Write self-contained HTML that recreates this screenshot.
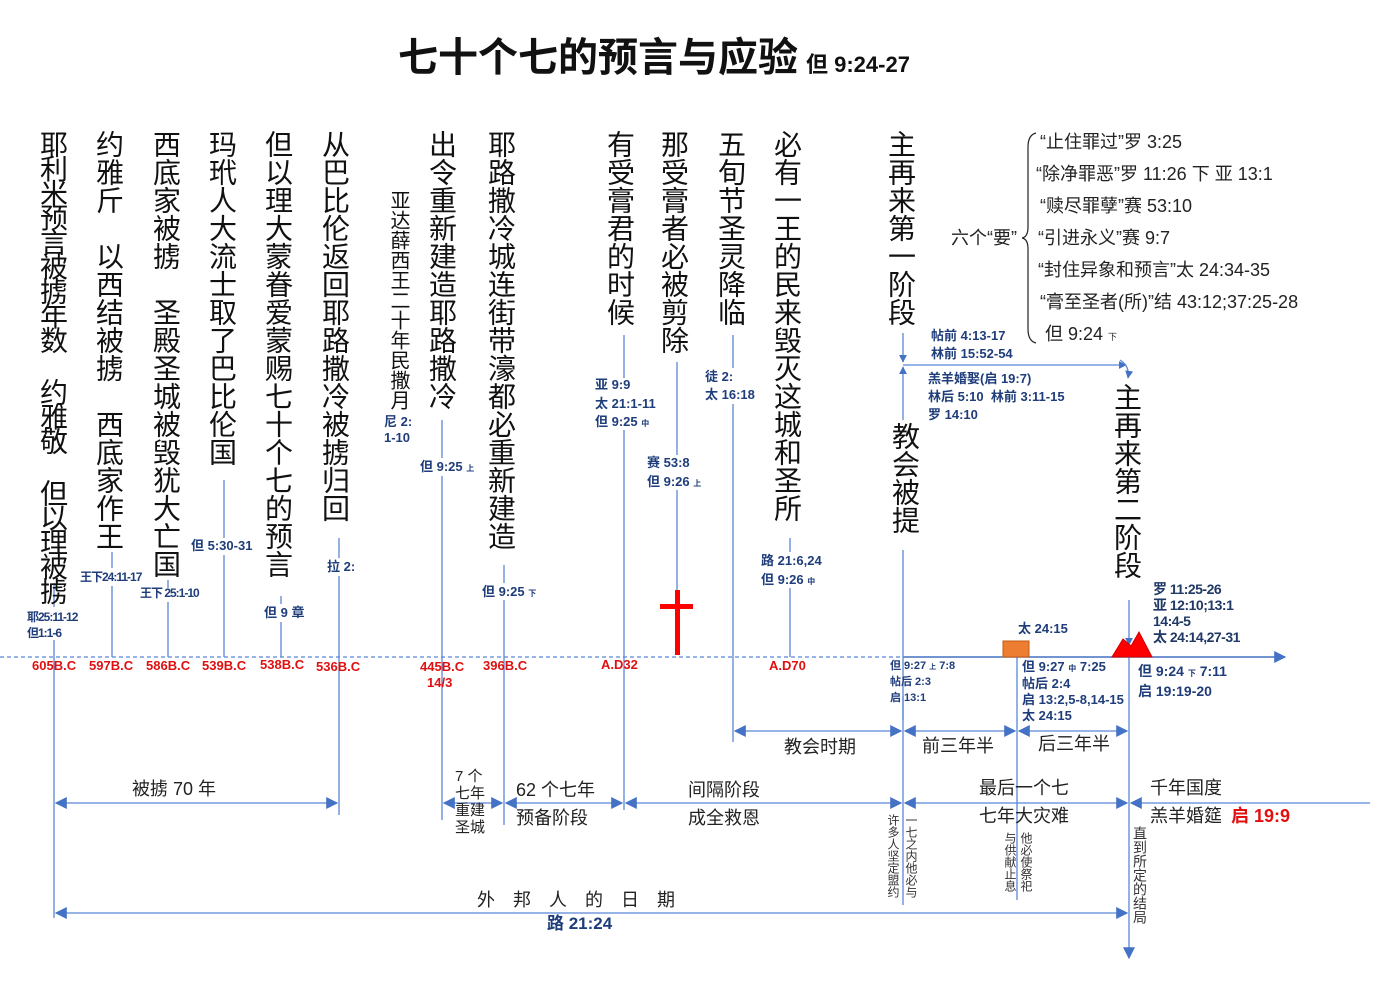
<!DOCTYPE html>
<html><head><meta charset="utf-8">
<style>
html,body{margin:0;padding:0;background:#fff;}
#c{position:relative;width:1390px;height:983px;overflow:hidden;font-family:"Liberation Sans","Noto Sans CJK SC",sans-serif;}
svg{position:absolute;left:0;top:0;}
.t{position:absolute;white-space:nowrap;line-height:1;}
.v{position:absolute;writing-mode:vertical-rl;text-orientation:upright;white-space:nowrap;line-height:1;color:#111;}
.big{font-size:28px;}
.ref{color:#1F3D7A;font-weight:bold;font-size:13px;}
.red{color:#E01010;font-size:13px;font-weight:bold;}
.m{font-size:18px;color:#222;}
</style></head><body><div id="c">
<svg width="1390" height="983" viewBox="0 0 1390 983">
<defs>
<marker id="a" viewBox="0 0 10 10" refX="9" refY="5" markerWidth="8" markerHeight="8" orient="auto-start-reverse" markerUnits="userSpaceOnUse"><path d="M0,0L10,5L0,10z" fill="#4472C4"/></marker>
<marker id="b" viewBox="0 0 10 10" refX="9" refY="5" markerWidth="12" markerHeight="12" orient="auto-start-reverse" markerUnits="userSpaceOnUse"><path d="M0,0L10,5L0,10z" fill="#4472C4"/></marker>
</defs>
<g stroke="#5B87D6" stroke-width="1.3" fill="none">
<line x1="0" y1="657" x2="903" y2="657" stroke-dasharray="4,3"/>
<line x1="903" y1="657" x2="1285" y2="657" stroke="#4472C4" stroke-width="1.6" marker-end="url(#b)"/>
<line x1="54" y1="583" x2="54" y2="607"/><line x1="54" y1="640" x2="54" y2="918"/>
<line x1="112" y1="552" x2="112" y2="568"/><line x1="112" y1="586" x2="112" y2="657"/>
<line x1="168" y1="580" x2="168" y2="588"/><line x1="168" y1="602" x2="168" y2="657"/>
<line x1="224" y1="480" x2="224" y2="538"/><line x1="224" y1="555" x2="224" y2="657"/>
<line x1="281" y1="596" x2="281" y2="604"/><line x1="281" y1="622" x2="281" y2="657"/>
<line x1="339" y1="538" x2="339" y2="558"/><line x1="339" y1="576" x2="339" y2="815"/>
<line x1="442" y1="420" x2="442" y2="458"/><line x1="442" y1="476" x2="442" y2="820"/>
<line x1="504" y1="565" x2="504" y2="583"/><line x1="504" y1="600" x2="504" y2="825"/>
<line x1="624" y1="335" x2="624" y2="378"/><line x1="624" y1="430" x2="624" y2="810"/>
<line x1="677" y1="362" x2="677" y2="455"/><line x1="677" y1="490" x2="677" y2="590"/>
<line x1="733" y1="335" x2="733" y2="368"/><line x1="733" y1="404" x2="733" y2="742"/>
<line x1="790" y1="538" x2="790" y2="552"/><line x1="790" y1="588" x2="790" y2="657"/>
<line x1="903" y1="333" x2="903" y2="362" marker-end="url(#a)"/>
<line x1="903" y1="420" x2="903" y2="367" marker-end="url(#a)"/>
<line x1="903" y1="550" x2="903" y2="905"/>
<line x1="1017" y1="657" x2="1017" y2="900"/>
<line x1="1129" y1="600" x2="1129" y2="645" marker-end="url(#a)"/>
<line x1="1129" y1="657" x2="1129" y2="958" marker-end="url(#b)"/>
<line x1="903" y1="696" x2="903" y2="720"/>
<line x1="903" y1="365" x2="1126" y2="365" marker-end="url(#a)"/>
<path d="M1120,360 q10,6 8,18" marker-end="url(#a)"/>
<line x1="735" y1="731" x2="901" y2="731" marker-start="url(#b)" marker-end="url(#b)"/>
<line x1="905" y1="731" x2="1015" y2="731" marker-start="url(#b)" marker-end="url(#b)"/>
<line x1="1019" y1="731" x2="1127" y2="731" marker-start="url(#b)" marker-end="url(#b)"/>
<line x1="56" y1="803" x2="337" y2="803" marker-start="url(#b)" marker-end="url(#b)"/>
<line x1="444" y1="803" x2="502" y2="803" marker-start="url(#b)" marker-end="url(#b)"/>
<line x1="506" y1="803" x2="622" y2="803" marker-start="url(#b)" marker-end="url(#b)"/>
<line x1="626" y1="803" x2="901" y2="803" marker-start="url(#b)" marker-end="url(#b)"/>
<line x1="905" y1="803" x2="1127" y2="803" marker-start="url(#b)" marker-end="url(#b)"/>
<line x1="1131" y1="803" x2="1370" y2="803" marker-start="url(#b)"/>
<line x1="56" y1="913" x2="1127" y2="913" marker-start="url(#b)" marker-end="url(#b)"/>
</g>
<path d="M1036,133 q-8,2 -8,14 v80 q0,10 -6,11 q6,1 6,11 v80 q0,12 8,14" stroke="#222" stroke-width="1.2" fill="none"/>
<rect x="675" y="590" width="5" height="65" fill="#F00"/>
<rect x="660" y="604" width="33" height="5" fill="#F00"/>
<rect x="1003" y="641" width="26" height="16" fill="#ED7D31" stroke="#C55A11" stroke-width="1"/>
<path d="M1112,657 L1123,639 L1131,646 L1139,632 L1152,657 Z" fill="#F00" stroke="#C00" stroke-width="1"/>
</svg>

<div class="t" style="left:398px;top:38px;font-size:40px;font-weight:bold;color:#111;">七十个七的预言与应验</div>
<div class="t" style="left:806px;top:54px;font-size:22px;font-weight:bold;color:#111;">但 9:24-27</div>

<div class="v big" style="left:38px;top:130px;letter-spacing:-3.5px;">耶利米预言被掳年数 约雅敬 但以理被掳</div>
<div class="v big" style="left:94px;top:130px;">约雅斤　以西结被掳　西底家作王</div>
<div class="v big" style="left:151px;top:130px;">西底家被掳　圣殿圣城被毁犹大亡国</div>
<div class="v big" style="left:207px;top:130px;">玛玳人大流士取了巴比伦国</div>
<div class="v big" style="left:263px;top:130px;">但以理大蒙眷爱蒙赐七十个七的预言</div>
<div class="v big" style="left:320px;top:130px;">从巴比伦返回耶路撒冷被掳归回</div>
<div class="v" style="left:388px;top:190px;font-size:20px;">亚达薛西王二十年民撒月</div>
<div class="v big" style="left:427px;top:130px;">出令重新建造耶路撒冷</div>
<div class="v big" style="left:486px;top:130px;">耶路撒冷城连街带濠都必重新建造</div>
<div class="v big" style="left:605px;top:130px;">有受膏君的时候</div>
<div class="v big" style="left:659px;top:130px;">那受膏者必被剪除</div>
<div class="v big" style="left:716px;top:130px;">五旬节圣灵降临</div>
<div class="v big" style="left:772px;top:130px;">必有一王的民来毁灭这城和圣所</div>
<div class="v big" style="left:886px;top:130px;">主再来第一阶段</div>
<div class="v big" style="left:890px;top:422px;">教会被提</div>
<div class="v big" style="left:1112px;top:383px;">主再来第二阶段</div>

<div class="t ref" style="left:80px;top:571px;font-size:12px;letter-spacing:-1px;">王下24:11-17</div>
<div class="t ref" style="left:140px;top:587px;font-size:12px;letter-spacing:-1px;">王下 25:1-10</div>
<div class="t ref" style="left:27px;top:611px;font-size:12px;letter-spacing:-1px;">耶25:11-12</div>
<div class="t ref" style="left:27px;top:627px;font-size:12px;letter-spacing:-1px;">但1:1-6</div>
<div class="t ref" style="left:191px;top:539px;">但 5:30-31</div>
<div class="t ref" style="left:264px;top:606px;">但 9 章</div>
<div class="t ref" style="left:327px;top:560px;">拉 2:</div>
<div class="t ref" style="left:384px;top:415px;">尼 2:</div>
<div class="t ref" style="left:384px;top:431px;">1-10</div>
<div class="t ref" style="left:420px;top:460px;">但 9:25 <span style="font-size:8px">上</span></div>
<div class="t ref" style="left:482px;top:585px;">但 9:25 <span style="font-size:8px">下</span></div>
<div class="t ref" style="left:595px;top:378px;">亚 9:9</div>
<div class="t ref" style="left:595px;top:397px;">太 21:1-11</div>
<div class="t ref" style="left:595px;top:415px;">但 9:25 <span style="font-size:8px">中</span></div>
<div class="t ref" style="left:647px;top:456px;">赛 53:8</div>
<div class="t ref" style="left:647px;top:475px;">但 9:26 <span style="font-size:8px">上</span></div>
<div class="t ref" style="left:705px;top:370px;">徒 2:</div>
<div class="t ref" style="left:705px;top:388px;">太 16:18</div>
<div class="t ref" style="left:761px;top:554px;">路 21:6,24</div>
<div class="t ref" style="left:761px;top:573px;">但 9:26 <span style="font-size:8px">中</span></div>
<div class="t ref" style="left:931px;top:329px;">帖前 4:13-17</div>
<div class="t ref" style="left:931px;top:347px;">林前 15:52-54</div>
<div class="t ref" style="left:928px;top:372px;">羔羊婚娶(启 19:7)</div>
<div class="t ref" style="left:928px;top:390px;">林后 5:10&nbsp; 林前 3:11-15</div>
<div class="t ref" style="left:928px;top:408px;">罗 14:10</div>
<div class="t ref" style="left:890px;top:661px;font-size:11px;">但 9:27 <span style="font-size:7px">上</span> 7:8</div>
<div class="t ref" style="left:890px;top:677px;font-size:11px;">帖后 2:3</div>
<div class="t ref" style="left:890px;top:693px;font-size:11px;">启 13:1</div>
<div class="t ref" style="left:1018px;top:622px;">太 24:15</div>
<div class="t ref" style="left:1022px;top:660px;">但 9:27 <span style="font-size:8px">中</span> 7:25</div>
<div class="t ref" style="left:1022px;top:677px;">帖后 2:4</div>
<div class="t ref" style="left:1022px;top:693px;">启 13:2,5-8,14-15</div>
<div class="t ref" style="left:1022px;top:709px;">太 24:15</div>
<div class="t ref" style="left:1153px;top:582px;font-size:14px;color:#1F3864;letter-spacing:-0.5px;">罗 11:25-26</div>
<div class="t ref" style="left:1153px;top:598px;font-size:14px;color:#1F3864;letter-spacing:-0.5px;">亚 12:10;13:1</div>
<div class="t ref" style="left:1153px;top:614px;font-size:14px;color:#1F3864;letter-spacing:-0.5px;">14:4-5</div>
<div class="t ref" style="left:1153px;top:630px;font-size:14px;color:#1F3864;letter-spacing:-0.5px;">太 24:14,27-31</div>
<div class="t ref" style="left:1138px;top:664px;font-size:14px;">但 9:24 <span style="font-size:8px">下</span> 7:11</div>
<div class="t ref" style="left:1138px;top:684px;font-size:14px;">启 19:19-20</div>

<div class="t red" style="left:32px;top:659px;">605B.C</div>
<div class="t red" style="left:89px;top:659px;">597B.C</div>
<div class="t red" style="left:146px;top:659px;">586B.C</div>
<div class="t red" style="left:202px;top:659px;">539B.C</div>
<div class="t red" style="left:260px;top:658px;">538B.C</div>
<div class="t red" style="left:316px;top:660px;">536B.C</div>
<div class="t red" style="left:420px;top:660px;">445B.C</div>
<div class="t red" style="left:427px;top:676px;">14/3</div>
<div class="t red" style="left:483px;top:659px;">396B.C</div>
<div class="t red" style="left:601px;top:658px;">A.D32</div>
<div class="t red" style="left:769px;top:659px;">A.D70</div>

<div class="t" style="left:951px;top:229px;font-size:18px;color:#222;">六个“要”</div>
<div class="t" style="left:1040px;top:133px;font-size:18px;color:#222;">“止住罪过”罗 3:25</div>
<div class="t" style="left:1036px;top:165px;font-size:18px;color:#222;">“除净罪恶”罗 11:26 下 亚 13:1</div>
<div class="t" style="left:1040px;top:197px;font-size:18px;color:#222;">“赎尽罪孽”赛 53:10</div>
<div class="t" style="left:1038px;top:229px;font-size:18px;color:#222;">“引进永义”赛 9:7</div>
<div class="t" style="left:1038px;top:261px;font-size:18px;color:#222;">“封住异象和预言”太 24:34-35</div>
<div class="t" style="left:1040px;top:293px;font-size:18px;color:#222;">“膏至圣者(所)”结 43:12;37:25-28</div>
<div class="t" style="left:1045px;top:325px;font-size:18px;color:#222;">但 9:24 <span style="font-size:9px">下</span></div>

<div class="t m" style="left:784px;top:738px;">教会时期</div>
<div class="t m" style="left:922px;top:737px;">前三年半</div>
<div class="t m" style="left:1038px;top:735px;">后三年半</div>
<div class="t m" style="left:132px;top:780px;">被掳 70 年</div>
<div class="t" style="left:455px;top:768px;font-size:15px;line-height:17px;color:#222;white-space:normal;width:34px;">7 个<br>七年<br>重建<br>圣城</div>
<div class="t m" style="left:516px;top:781px;">62 个七年</div>
<div class="t m" style="left:516px;top:809px;">预备阶段</div>
<div class="t m" style="left:688px;top:781px;">间隔阶段</div>
<div class="t m" style="left:688px;top:809px;">成全救恩</div>
<div class="t m" style="left:979px;top:779px;">最后一个七</div>
<div class="t m" style="left:979px;top:807px;">七年大灾难</div>
<div class="t m" style="left:1150px;top:779px;">千年国度</div>
<div class="t m" style="left:1150px;top:807px;">羔羊婚筵 <b style="color:#E01010;margin-left:4px;">启 19:9</b></div>
<div class="t m" style="left:477px;top:891px;letter-spacing:18px;">外邦人的日期</div>
<div class="t" style="left:547px;top:915px;font-size:17px;font-weight:bold;color:#1F3D7A;">路 21:24</div>

<div class="v" style="left:887px;top:814px;font-size:12px;color:#333;">许多人坚定盟约</div>
<div class="v" style="left:905px;top:814px;font-size:12px;color:#333;">一七之内他必与</div>
<div class="v" style="left:1004px;top:832px;font-size:12px;color:#333;">与供献止息</div>
<div class="v" style="left:1020px;top:832px;font-size:12px;color:#333;">他必使祭祀</div>
<div class="v" style="left:1133px;top:826px;font-size:14px;color:#333;line-height:1;">直到所定的结局</div>
</div></body></html>
